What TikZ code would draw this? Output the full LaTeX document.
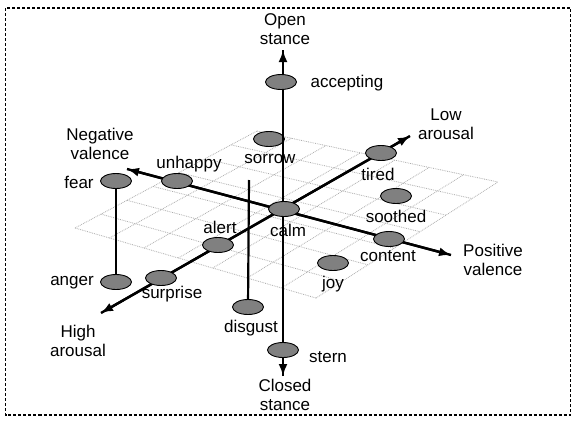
\documentclass[tikz,border=0pt]{standalone}
\usepackage{fontspec}
\setmainfont{Liberation Sans}
\usetikzlibrary{shapes.geometric,arrows.meta,calc}

\tikzset{
  emo/.style={ellipse,draw=black,line width=0.9pt,fill=black!50,
    minimum width=31pt,minimum height=15pt,inner sep=0pt},
  lbl/.style={font=\fontsize{17}{19}\selectfont,align=center,inner sep=1pt},
  axis/.style={line width=2.4pt,-{Latex[length=12pt,width=9pt]}},
  stick/.style={line width=2.2pt},
  gridline/.style={gray!65,densely dotted,line width=0.8pt}
}

\begin{document}
\begin{tikzpicture}[x=1pt,y=-1pt]
  \useasboundingbox (0,0) rectangle (576,426);
  \draw[densely dashed,line width=1.3pt] (5.5,8) rectangle (570.5,415);

  % ground plane grid
  \coordinate (gl) at (75,228);
  \coordinate (gt) at (257,131);
  \coordinate (gr) at (498,182);
  \coordinate (gb) at (316,298);
  \foreach \i in {0,...,7} {
    \draw[gridline] ($(gl)!\i/7!(gt)$) -- ($(gb)!\i/7!(gr)$);
    \draw[gridline] ($(gl)!\i/7!(gb)$) -- ($(gt)!\i/7!(gr)$);
  }

  % axis ends
  \coordinate (opentip) at (283,50);
  \coordinate (closedtip) at (283,376);
  \coordinate (negtip) at (127,169);
  \coordinate (postip) at (451,255);
  \coordinate (lowtip) at (410,136);
  \coordinate (hightip) at (101,313);
  \coordinate (disgusttop) at (249,180);

  \node[emo] (sorrow) at (269,139) {};

  % axes
  \draw[axis] (closedtip) -- (opentip);
  \draw[axis] (opentip) -- (closedtip);
  \draw[axis] (postip) -- (negtip);
  \draw[axis] (negtip) -- (postip);
  \draw[axis] (hightip) -- (lowtip);
  \draw[axis] (lowtip) -- (hightip);

  % emotions
  \node[emo] (accepting) at (281,82) {};
  \node[emo] (tired) at (381,153) {};
  \node[emo] (unhappy) at (177,181) {};
  \node[emo] (fear) at (116,181) {};
  \node[emo] (calm) at (284,209) {};
  \node[emo] (soothed) at (396,196) {};
  \node[emo] (alert) at (218,245) {};
  \node[emo] (content) at (389,239) {};
  \node[emo] (joy) at (333,263) {};
  \node[emo] (anger) at (116,282) {};
  \node[emo] (surprise) at (161,278) {};
  \node[emo] (disgust) at (248,307) {};
  \node[emo] (stern) at (283,350) {};

  \draw[stick] (fear) -- (anger);
  \draw[stick] (disgusttop) -- (disgust);

  % axis labels
  \node[lbl] (opentxt) at (285,29.5) {Open\\stance};
  \node[lbl] (closedtxt) at (285,395) {Closed\\stance};
  \node[lbl] (negtxt) at (100,143.5) {Negative\\valence};
  \node[lbl] (postxt) at (493,259.5) {Positive\\valence};
  \node[lbl] (lowtxt) at (446,124.5) {Low\\arousal};
  \node[lbl] (hightxt) at (78,341) {High\\arousal};

  % emotion labels
  \node[lbl] (acceptingtxt) at (347,83) {accepting};
  \node[lbl] (sorrowtxt) at (270,159) {sorrow};
  \node[lbl] (tiredtxt) at (378,174) {tired};
  \node[lbl] (unhappytxt) at (189,164) {unhappy};
  \node[lbl] (feartxt) at (79,182) {fear};
  \node[lbl] (calmtxt) at (288,230) {calm};
  \node[lbl] (soothedtxt) at (396,216) {soothed};
  \node[lbl] (alerttxt) at (220,227) {alert};
  \node[lbl] (contenttxt) at (388,256) {content};
  \node[lbl] (joytxt) at (333,284) {joy};
  \node[lbl] (angertxt) at (72,283) {anger};
  \node[lbl] (surprisetxt) at (172,294) {surprise};
  \node[lbl] (disgusttxt) at (251,328) {disgust};
  \node[lbl] (sterntxt) at (328,357) {stern};
\end{tikzpicture}
\end{document}
